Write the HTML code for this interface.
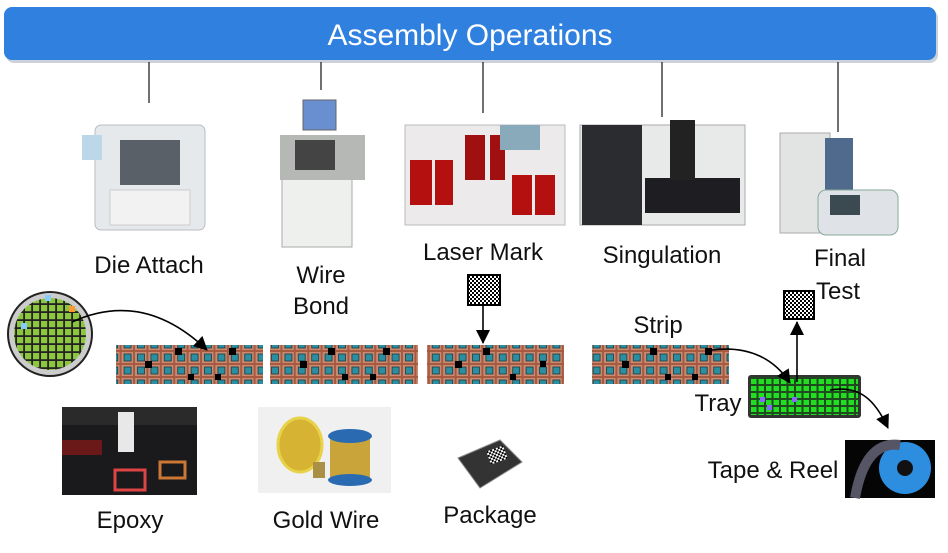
<!DOCTYPE html>
<html><head><meta charset="utf-8"><style>
body{margin:0;background:#fff;}
svg{display:block;font-family:"Liberation Sans",sans-serif;}
</style></head><body>
<svg width="948" height="553" viewBox="0 0 948 553" xmlns="http://www.w3.org/2000/svg">
<defs>
<pattern id="strip" x="0" y="0" width="13.4" height="13" patternUnits="userSpaceOnUse">
<rect width="13.4" height="13" fill="#c98a72"/>
<rect x="0.5" y="0.5" width="12.4" height="12" fill="none" stroke="#a85a40" stroke-width="1"/>
<rect x="3.5" y="3" width="7" height="7" fill="#2a8fa0" stroke="#1a3a40" stroke-width="0.8"/>
</pattern>
<pattern id="tray" x="0" y="0" width="7.5" height="7" patternUnits="userSpaceOnUse">
<rect width="7.5" height="7" fill="#1f4a1f"/>
<rect x="1" y="1" width="5.5" height="5" fill="#22dd22"/>
</pattern>
<pattern id="wafer" x="0" y="0" width="8" height="8" patternUnits="userSpaceOnUse">
<rect width="8" height="8" fill="#222"/>
<rect x="1" y="1" width="6.2" height="6.2" fill="#8cc63f"/>
</pattern>
<pattern id="qr" x="0" y="0" width="4" height="4" patternUnits="userSpaceOnUse">
<rect width="4" height="4" fill="#fff"/>
<rect width="2" height="2" fill="#000"/><rect x="2" y="2" width="2" height="2" fill="#000"/>
</pattern>
<marker id="ah2" markerWidth="14" markerHeight="14" refX="13" refY="7" orient="auto" markerUnits="userSpaceOnUse">
<path d="M0,0 L14,7 L0,14 z" fill="#000"/>
</marker>
</defs>

<rect x="6" y="10" width="932" height="53" rx="8" fill="#9aa6b4" opacity="0.5"/>
<rect x="4" y="7" width="932" height="53" rx="8" fill="#2f80df"/>
<text x="470" y="45" font-size="30" fill="#fff" text-anchor="middle">Assembly Operations</text>

<g stroke="#222" stroke-width="1.3">
<line x1="149" y1="62" x2="149" y2="103"/>
<line x1="321" y1="62" x2="321" y2="90"/>
<line x1="483" y1="62" x2="483" y2="113"/>
<line x1="662" y1="62" x2="662" y2="117"/>
<line x1="838" y1="62" x2="838" y2="132"/>
</g>

<g>
<rect x="95" y="125" width="110" height="105" rx="6" fill="#e6e9ec" stroke="#b8bcc0"/>
<rect x="120" y="140" width="60" height="45" fill="#5a6068"/>
<rect x="82" y="135" width="20" height="25" fill="#bcd8e8"/>
<rect x="110" y="190" width="80" height="35" fill="#f2f2f2" stroke="#ccc"/>

<rect x="282" y="172" width="70" height="75" fill="#eef0ee" stroke="#aaa"/>
<rect x="280" y="135" width="85" height="45" fill="#b5b8b5"/>
<rect x="303" y="100" width="33" height="30" fill="#6a8fd0" stroke="#666"/>
<rect x="295" y="140" width="40" height="30" fill="#444"/>

<rect x="405" y="125" width="160" height="100" fill="#eceaea" stroke="#bbb"/>
<rect x="410" y="160" width="22" height="45" fill="#b51010"/>
<rect x="435" y="160" width="18" height="45" fill="#b51010"/>
<rect x="465" y="135" width="20" height="45" fill="#a01010"/>
<rect x="490" y="135" width="15" height="45" fill="#a01010"/>
<rect x="512" y="175" width="20" height="40" fill="#b51010"/>
<rect x="535" y="175" width="20" height="40" fill="#b51010"/>
<rect x="500" y="125" width="40" height="25" fill="#8ab"/>

<rect x="580" y="125" width="165" height="100" fill="#e8eaea" stroke="#aaa"/>
<rect x="582" y="125" width="60" height="100" fill="#2a2c30"/>
<rect x="645" y="178" width="95" height="35" fill="#1e1e22"/>
<rect x="670" y="120" width="25" height="60" fill="#222"/>

<rect x="780" y="133" width="50" height="100" fill="#e2e4e4" stroke="#aaa"/>
<rect x="825" y="138" width="28" height="80" fill="#4f6a8c"/>
<rect x="818" y="190" width="80" height="45" rx="8" fill="#dfe3e8" stroke="#8a9"/>
<rect x="830" y="195" width="30" height="20" fill="#3a4a50"/>
</g>

<g font-size="24" fill="#111" text-anchor="middle">
<text x="149" y="273">Die Attach</text>
<text x="321" y="283">Wire</text>
<text x="321" y="314">Bond</text>
<text x="483" y="260">Laser Mark</text>
<text x="662" y="263">Singulation</text>
<text x="840" y="266">Final</text>
<text x="838" y="299">Test</text>
<text x="658" y="333">Strip</text>
<text x="718" y="411">Tray</text>
<text x="773" y="478">Tape &amp; Reel</text>
<text x="130" y="528">Epoxy</text>
<text x="326" y="528">Gold Wire</text>
<text x="490" y="523">Package</text>
</g>

<circle cx="50" cy="334" r="42" fill="#ccc" stroke="#222" stroke-width="2"/>
<clipPath id="wc"><circle cx="50" cy="334" r="36"/></clipPath>
<rect x="10" y="294" width="80" height="80" fill="url(#wafer)" clip-path="url(#wc)"/>
<rect x="21" y="323" width="6" height="6" fill="#8cf"/>
<rect x="69" y="306" width="6" height="6" fill="#f93"/>
<rect x="45" y="295" width="6" height="6" fill="#8cf"/>

<rect x="116" y="345" width="147" height="39" fill="url(#strip)"/>
<rect x="270" y="345" width="148" height="39" fill="url(#strip)"/>
<rect x="427" y="345" width="137" height="39" fill="url(#strip)"/>
<rect x="592" y="345" width="137" height="39" fill="url(#strip)"/>
<g fill="#000">
<rect x="175" y="348" width="7" height="7"/><rect x="229" y="348" width="7" height="7"/>
<rect x="145" y="361" width="7" height="7"/><rect x="188" y="374" width="6" height="6"/><rect x="215" y="374" width="6" height="6"/>
<rect x="328" y="348" width="7" height="7"/><rect x="383" y="348" width="7" height="7"/><rect x="300" y="361" width="7" height="7"/><rect x="342" y="374" width="6" height="6"/><rect x="370" y="374" width="6" height="6"/>
<rect x="483" y="348" width="7" height="7"/><rect x="455" y="361" width="7" height="7"/><rect x="510" y="374" width="6" height="6"/><rect x="540" y="361" width="6" height="6"/>
<rect x="650" y="348" width="7" height="7"/><rect x="705" y="348" width="7" height="7"/><rect x="622" y="361" width="7" height="7"/><rect x="665" y="374" width="6" height="6"/><rect x="692" y="374" width="6" height="6"/>
</g>

<rect x="748" y="375" width="113" height="43" rx="3" fill="#333"/>
<rect x="751" y="377" width="107" height="38" fill="url(#tray)"/>
<rect x="760" y="397" width="5" height="5" fill="#86f"/><rect x="792" y="397" width="5" height="5" fill="#86f"/><rect x="767" y="405" width="5" height="5" fill="#86f"/>

<rect x="468" y="275" width="32" height="30" fill="url(#qr)" stroke="#000" stroke-width="2"/>
<rect x="784" y="291" width="30" height="28" fill="url(#qr)" stroke="#000" stroke-width="2"/>

<g fill="none" stroke="#000" stroke-width="1.6">
<path d="M72,322 C120,300 165,310 207,350" marker-end="url(#ah2)"/>
<line x1="483" y1="306" x2="483" y2="343" marker-end="url(#ah2)"/>
<path d="M712,350 C750,345 775,360 790,383" marker-end="url(#ah2)"/>
<line x1="797" y1="382" x2="797" y2="322" marker-end="url(#ah2)"/>
<path d="M830,390 C860,385 875,400 888,428" marker-end="url(#ah2)"/>
</g>

<rect x="845" y="440" width="90" height="58" fill="#050505"/>
<circle cx="905" cy="468" r="26" fill="#2d8ee0"/>
<circle cx="905" cy="468" r="8" fill="#111"/>
<path d="M855,498 Q865,440 900,445" stroke="#556" stroke-width="10" fill="none"/>

<rect x="62" y="407" width="135" height="88" fill="#1a1a1c"/>
<rect x="62" y="407" width="135" height="18" fill="#2a2a2a"/>
<rect x="118" y="412" width="16" height="40" fill="#e8e8e8"/>
<rect x="115" y="470" width="30" height="20" fill="none" stroke="#d44" stroke-width="3"/>
<rect x="160" y="462" width="25" height="16" fill="none" stroke="#c73" stroke-width="3"/>
<rect x="62" y="440" width="40" height="15" fill="#6a1818"/>

<rect x="258" y="407" width="133" height="86" fill="#f0f0f0"/>
<ellipse cx="300" cy="445" rx="22" ry="27" fill="#d6b332" stroke="#e8d24a" stroke-width="3"/>
<rect x="330" y="436" width="40" height="44" fill="#c9a43a"/>
<ellipse cx="350" cy="436" rx="22" ry="7" fill="#2a6ab0"/>
<ellipse cx="350" cy="480" rx="22" ry="6" fill="#2a6ab0"/>
<rect x="313" y="462" width="12" height="16" fill="#aa9044"/>

<polygon points="458,458 500,440 522,462 480,488" fill="#333" stroke="#888"/>
<rect x="488" y="448" width="18" height="14" fill="url(#qr)" transform="rotate(-20 497 455)"/>
</svg>
</body></html>
